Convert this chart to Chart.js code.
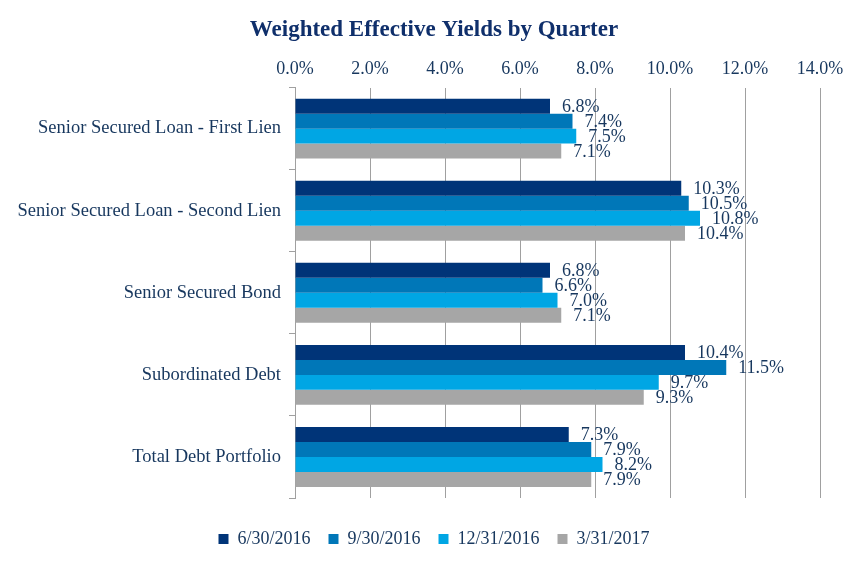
<!DOCTYPE html>
<html>
<head>
<meta charset="utf-8">
<script src="https://cdn.jsdelivr.net/npm/chart.js@4.4.0/dist/chart.umd.min.js"></script>
<style>
  html, body { margin: 0; padding: 0; background: #fff; }
  #wrap { width: 868px; height: 567px; position: relative; }
</style>
</head>
<body>
<div id="wrap"><canvas id="chart"></canvas></div>
<script>
// данные
const categories = [
  "Senior Secured Loan - First Lien",
  "Senior Secured Loan - Second Lien",
  "Senior Secured Bond",
  "Subordinated Debt",
  "Total Debt Portfolio",
];
const seriesNames = ["6/30/2016", "9/30/2016", "12/31/2016", "3/31/2017"];
const q2016_06 = [6.8, 10.3, 6.8, 10.4, 7.3];
const q2016_09 = [7.4, 10.5, 6.6, 11.5, 7.9];
const q2016_12 = [7.5, 10.8, 7.0, 9.7, 8.2];
const q2017_03 = [7.1, 10.4, 7.1, 9.3, 7.9];
const xTicks = [0, 2, 4, 6, 8, 10, 12, 14];
const chartTitle = "Weighted Effective Yields by Quarter";

const colors = ["#003478", "#0077b8", "#00a6e4", "#a6a6a6"];
const textColor = "#17375e";
const serif = "'Liberation Serif', 'Times New Roman', serif";

// заголовок по центру всего холста
const centerTitle = {
  id: "centerTitle",
  afterDraw(chart) {
    const ctx = chart.ctx;
    ctx.save();
    ctx.font = "bold 23px " + serif;
    ctx.fillStyle = "#0f2f6b";
    ctx.textAlign = "center";
    ctx.textBaseline = "middle";
    ctx.fillText(chartTitle, chart.width / 2, 30);
    ctx.restore();
  },
};

// подписи значений справа от столбцов
const valueLabels = {
  id: "valueLabels",
  afterDatasetsDraw(chart) {
    const ctx = chart.ctx;
    ctx.save();
    ctx.font = "18px " + serif;
    ctx.fillStyle = textColor;
    ctx.textAlign = "left";
    ctx.textBaseline = "middle";
    chart.data.datasets.forEach((ds, i) => {
      const meta = chart.getDatasetMeta(i);
      meta.data.forEach((bar, j) => {
        ctx.fillText(ds.data[j].toFixed(1) + "%", bar.x + 12, bar.y + 1);
      });
    });
    ctx.restore();
  },
};

const allSeries = [q2016_06, q2016_09, q2016_12, q2017_03];

new Chart(document.getElementById("chart"), {
  type: "bar",
  data: {
    labels: categories,
    datasets: allSeries.map((data, i) => ({
      label: seriesNames[i],
      data: data,
      backgroundColor: colors[i],
      barPercentage: 1,
      categoryPercentage: 0.73,
    })),
  },
  options: {
    indexAxis: "y",
    responsive: true,
    maintainAspectRatio: false,
    animation: false,
    layout: { padding: { left: 0, right: 0, top: 50, bottom: 9 } },
    plugins: {
      title: { display: false },
      legend: {
        position: "bottom",
        title: {
          display: true,
          text: " ",
          font: { size: 10 },
          padding: { top: 1, bottom: 1 },
        },
        labels: {
          color: textColor,
          font: { family: serif, size: 18 },
          boxWidth: 10,
          boxHeight: 10,
          padding: 18,
        },
      },
      tooltip: { enabled: false },
    },
    scales: {
      x: {
        position: "top",
        min: 0,
        max: 14,
        afterBuildTicks: (axis) => {
          axis.ticks = xTicks.map((v) => ({ value: v }));
        },
        // место справа под подписи, легенда остаётся по центру холста
        afterFit: (axis) => {
          axis.paddingRight = 48;
        },
        ticks: {
          color: textColor,
          font: { family: serif, size: 18 },
          padding: 8,
          callback: (v) => Number(v).toFixed(1) + "%",
        },
        grid: { color: "#a0a0a0", drawTicks: false },
        border: { display: false },
      },
      y: {
        afterFit: (axis) => {
          axis.width = 295;
        },
        ticks: {
          color: textColor,
          font: { family: serif, size: 18.5 },
          padding: 8,
        },
        grid: {
          offset: true,
          drawOnChartArea: false,
          tickLength: 6,
          color: "#a0a0a0",
        },
        border: { display: true, color: "#a0a0a0" },
      },
    },
  },
  plugins: [valueLabels, centerTitle],
});
</script>
</body>
</html>
